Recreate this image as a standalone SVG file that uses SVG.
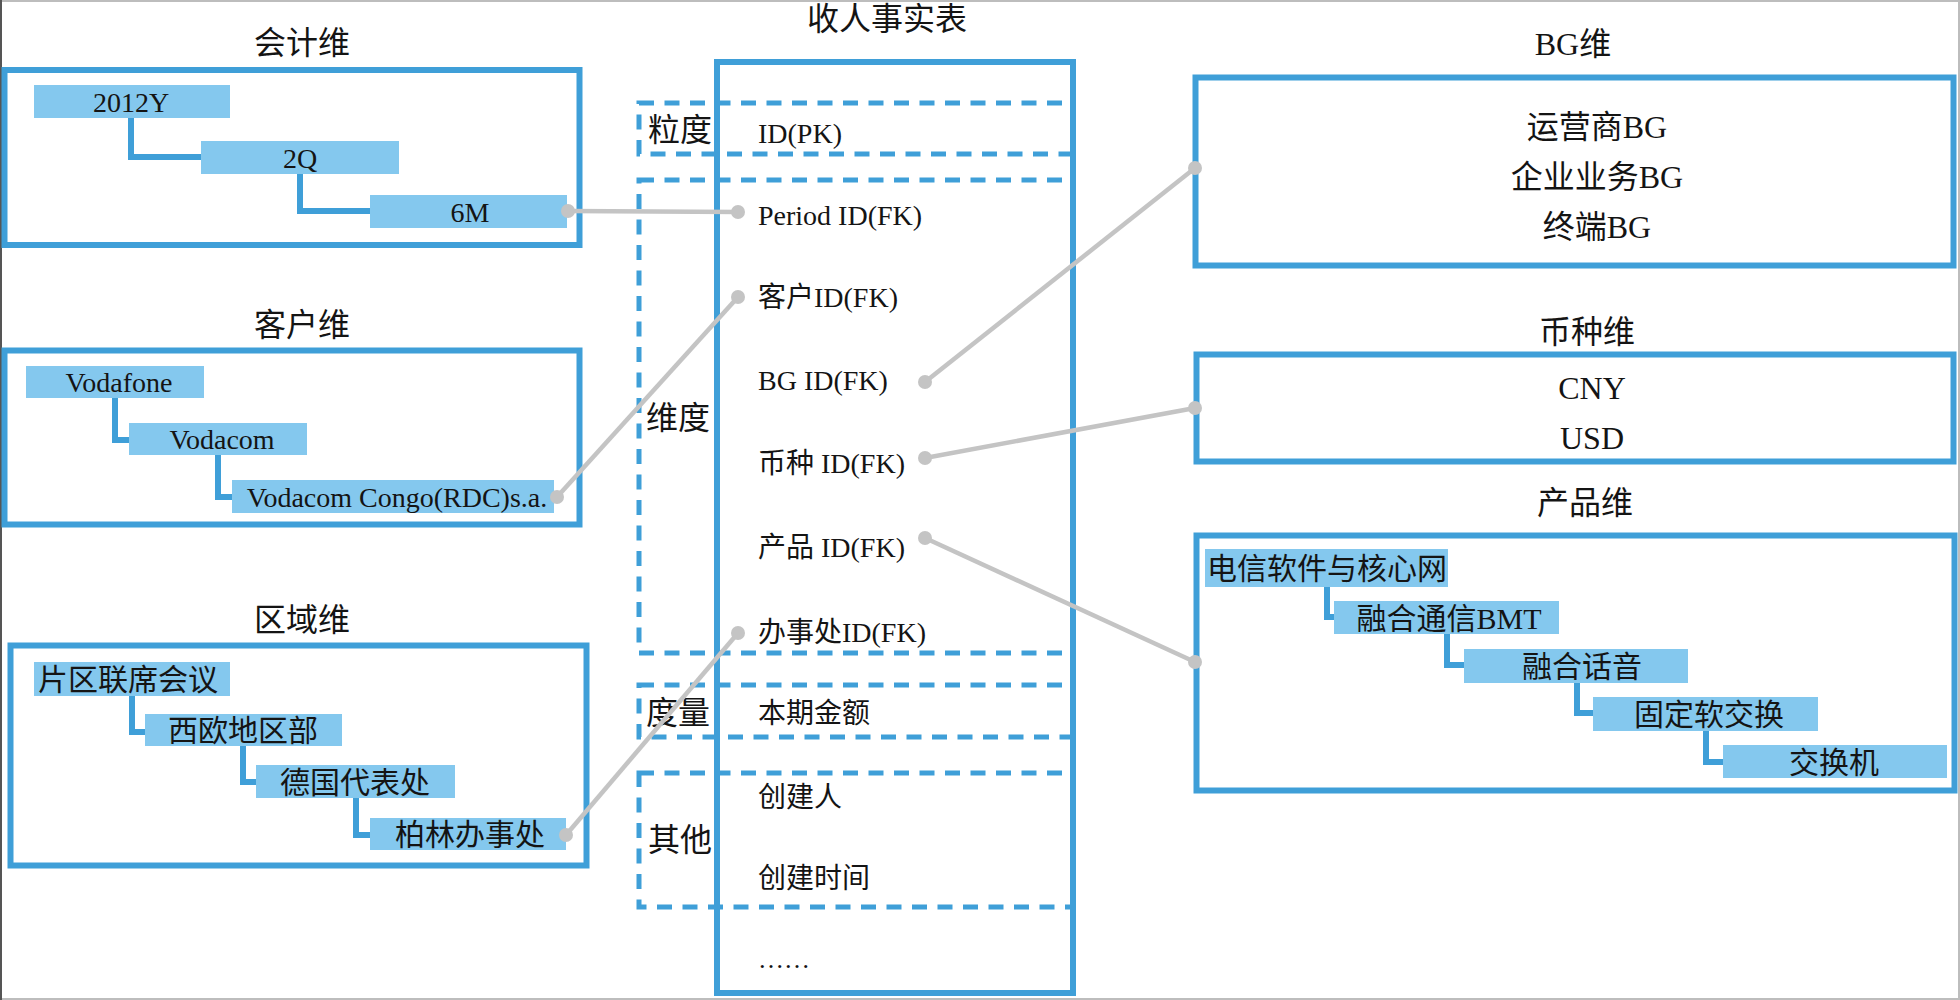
<svg xmlns="http://www.w3.org/2000/svg" width="1960" height="1000" viewBox="0 0 1960 1000">
<style>
.frame{fill:none;stroke:#3f9fd8;stroke-width:6}
.dash{fill:none;stroke:#3f9fd8;stroke-width:5;stroke-dasharray:15 10.5}
.bar{fill:#84c8ee}
.tree{fill:none;stroke:#3f9fd8;stroke-width:6}
.t{font-family:"Liberation Serif","Noto Sans CJK SC",serif;fill:#141414;dominant-baseline:central}
.title{font-size:32px;text-anchor:middle}
.bt{font-size:28px;text-anchor:middle}
.bc{font-size:30px;text-anchor:middle}
.fld{font-size:28px}
.lbl{font-size:32px;text-anchor:middle}
.big{font-size:32px;text-anchor:middle}
.conn line{stroke:#c4c4c4;stroke-width:4.5}
.conn circle{fill:#c4c4c4}
</style>
<rect x="0" y="0" width="1960" height="1000" fill="#ffffff"/>
<rect x="1" y="1" width="1958" height="998" fill="none" stroke="#bdbdbd" stroke-width="2"/>
<line x1="1" y1="0" x2="1" y2="1000" stroke="#555" stroke-width="2"/>

<g id="acct-dim">
<text class="t title" x="302" y="43">会计维</text>
<rect class="frame" x="4.5" y="70" width="575" height="175"/>
<path class="tree" d="M131 118 V157 H202"/>
<path class="tree" d="M300 173 V211 H371"/>
<rect class="bar" x="34" y="85" width="196" height="33"/>
<text class="t bt" x="131" y="102">2012Y</text>
<rect class="bar" x="201" y="141" width="198" height="33"/>
<text class="t bt" x="300" y="158">2Q</text>
<rect class="bar" x="370" y="195" width="197" height="33"/>
<text class="t bt" x="470" y="212">6M</text>
</g>

<g id="cust-dim">
<text class="t title" x="302" y="325">客户维</text>
<rect class="frame" x="4.5" y="350.5" width="575" height="174"/>
<path class="tree" d="M115 397 V440 H130"/>
<path class="tree" d="M218 454 V497 H233"/>
<rect class="bar" x="26" y="366" width="178" height="32"/>
<text class="t bt" x="119" y="382">Vodafone</text>
<rect class="bar" x="129" y="423" width="178" height="32"/>
<text class="t bt" x="222" y="439">Vodacom</text>
<rect class="bar" x="232" y="480" width="322" height="33"/>
<text class="t bt" x="397" y="497">Vodacom Congo(RDC)s.a.</text>
</g>

<g id="region-dim">
<text class="t title" x="302" y="620">区域维</text>
<rect class="frame" x="10.5" y="645.5" width="576" height="220"/>
<path class="tree" d="M132 695 V732 H146"/>
<path class="tree" d="M243 745 V782 H257"/>
<path class="tree" d="M356 797 V835 H371"/>
<rect class="bar" x="34" y="662" width="196" height="34"/>
<text class="t bc" x="128" y="679">片区联席会议</text>
<rect class="bar" x="145" y="714" width="197" height="32"/>
<text class="t bc" x="243" y="730">西欧地区部</text>
<rect class="bar" x="256" y="765" width="199" height="33"/>
<text class="t bc" x="355" y="782">德国代表处</text>
<rect class="bar" x="370" y="818" width="196" height="32"/>
<text class="t bc" x="470" y="834">柏林办事处</text>
</g>

<g id="fact-table">
<text class="t title" x="887" y="19">收人事实表</text>
<rect class="dash" x="639" y="103" width="434" height="51"/>
<rect class="dash" x="639" y="180" width="434" height="473"/>
<rect class="dash" x="639" y="685" width="434" height="52"/>
<rect class="dash" x="639" y="773" width="434" height="134"/>
<rect class="frame" x="717" y="62" width="356" height="931"/>
<text class="t lbl" x="680" y="130">粒度</text>
<text class="t lbl" x="678" y="418">维度</text>
<text class="t lbl" x="678" y="713">度量</text>
<text class="t lbl" x="680" y="840">其他</text>
<text class="t fld" x="758" y="133">ID(PK)</text>
<text class="t fld" x="758" y="215">Period ID(FK)</text>
<text class="t fld" x="758" y="297">客户ID(FK)</text>
<text class="t fld" x="758" y="380">BG ID(FK)</text>
<text class="t fld" x="758" y="463">币种 ID(FK)</text>
<text class="t fld" x="758" y="547">产品 ID(FK)</text>
<text class="t fld" x="758" y="632">办事处ID(FK)</text>
<text class="t fld" x="758" y="713">本期金额</text>
<text class="t fld" x="758" y="797">创建人</text>
<text class="t fld" x="758" y="878">创建时间</text>
<text x="758" y="968" font-family="Liberation Serif, serif" font-size="26" fill="#141414">……</text>
</g>

<g id="bg-dim">
<text class="t title" x="1573" y="44">BG维</text>
<rect class="frame" x="1195.5" y="77.5" width="758" height="188"/>
<text class="t big" x="1597" y="127">运营商BG</text>
<text class="t big" x="1597" y="177">企业业务BG</text>
<text class="t big" x="1597" y="227">终端BG</text>
</g>

<g id="currency-dim">
<text class="t title" x="1587" y="332">币种维</text>
<rect class="frame" x="1196.5" y="354.5" width="757" height="107"/>
<text class="t big" x="1592" y="388">CNY</text>
<text class="t big" x="1592" y="438">USD</text>
</g>

<g id="product-dim">
<text class="t title" x="1585" y="503">产品维</text>
<rect class="frame" x="1196.5" y="535.5" width="758" height="255"/>
<path class="tree" d="M1327 586 V617 H1335"/>
<path class="tree" d="M1447 633 V665 H1465"/>
<path class="tree" d="M1577 682 V713 H1594"/>
<path class="tree" d="M1706 730 V762 H1724"/>
<rect class="bar" x="1205" y="549" width="243" height="38"/>
<text class="t bc" x="1327" y="568">电信软件与核心网</text>
<rect class="bar" x="1334" y="601" width="225" height="33"/>
<text class="t bc" x="1449" y="618">融合通信BMT</text>
<rect class="bar" x="1464" y="649" width="224" height="34"/>
<text class="t bc" x="1582" y="666">融合话音</text>
<rect class="bar" x="1593" y="697" width="225" height="34"/>
<text class="t bc" x="1709" y="714">固定软交换</text>
<rect class="bar" x="1723" y="745" width="224" height="33"/>
<text class="t bc" x="1834" y="762">交换机</text>
</g>

<g id="connectors" class="conn">
<line x1="568" y1="211" x2="738" y2="212"/>
<circle cx="568" cy="211" r="7"/><circle cx="738" cy="212" r="7"/>
<line x1="557" y1="497" x2="738" y2="297"/>
<circle cx="557" cy="497" r="7"/><circle cx="738" cy="297" r="7"/>
<line x1="566" y1="835" x2="738" y2="633"/>
<circle cx="566" cy="835" r="7"/><circle cx="738" cy="633" r="7"/>
<line x1="925" y1="382" x2="1195" y2="168"/>
<circle cx="925" cy="382" r="7"/><circle cx="1195" cy="168" r="7"/>
<line x1="925" y1="458" x2="1195" y2="408"/>
<circle cx="925" cy="458" r="7"/><circle cx="1195" cy="408" r="7"/>
<line x1="925" y1="538" x2="1195" y2="662"/>
<circle cx="925" cy="538" r="7"/><circle cx="1195" cy="662" r="7"/>
</g>
</svg>
